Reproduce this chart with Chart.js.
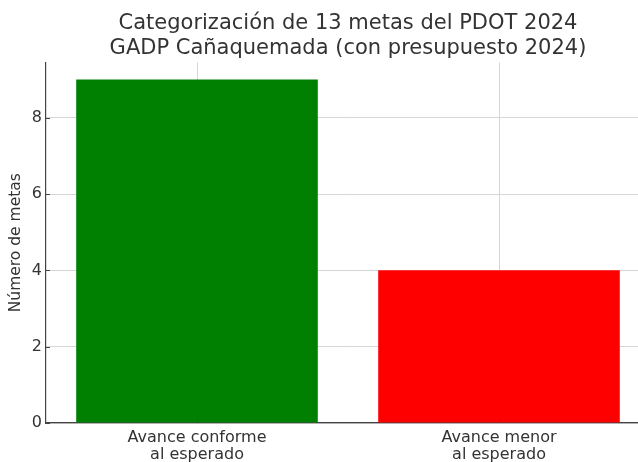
<!DOCTYPE html>
<html>
<head>
<meta charset="utf-8">
<script src="https://cdn.jsdelivr.net/npm/chart.js@4"></script>
<style>
  html, body { margin: 0; padding: 0; background: #fff; overflow: hidden; }
  #wrap { width: 660px; height: 462px; }
</style>
</head>
<body>
<div id="wrap"><canvas id="bars"></canvas></div>
<script>
const categorias = [['Avance conforme', 'al esperado'], ['Avance menor', 'al esperado']]
const metas = [9, 4]
const colores = ['#008000', '#ff0000']
const ticksY = [0, 2, 4, 6, 8]

const ctx = document.getElementById('bars')
const fuente = 'DejaVu Sans'

// marcas de graduación hacia dentro, como en matplotlib
const marcasDentro = {
    id: 'marcasDentro',
    afterDraw(chart) {
        const c = chart.ctx
        const a = chart.chartArea
        const sx = chart.scales.x
        const sy = chart.scales.y
        c.save()
        c.strokeStyle = '#444'
        c.lineWidth = 1
        c.beginPath()
        ticksY.forEach(v => {
            const y = Math.round(sy.getPixelForValue(v)) + 0.5
            c.moveTo(a.left, y)
            c.lineTo(a.left + 4, y)
        })
        categorias.forEach((_, i) => {
            const x = Math.round(sx.getPixelForValue(i)) + 0.5
            c.moveTo(x, a.bottom)
            c.lineTo(x, a.bottom - 4)
        })
        c.stroke()
        c.restore()
    }
}

new Chart(ctx, {
    type: 'bar',
    data: {
        labels: categorias,
        datasets: [{
            label: 'Número de metas',
            data: metas,
            backgroundColor: colores,
            borderWidth: 0,
            barPercentage: 0.8,
            categoryPercentage: 1
        }]
    },
    options: {
        responsive: true,
        maintainAspectRatio: false,
        animation: false,
        layout: { padding: { left: 0, right: 10, top: 0, bottom: 0 } },
        plugins: {
            legend: { display: false },
            tooltip: { enabled: false },
            title: {
                display: true,
                fullSize: false,
                text: ['Categorización de 13 metas del PDOT 2024', 'GADP Cañaquemada (con presupuesto 2024)'],
                color: '#333',
                font: { family: fuente, size: 21, weight: 'normal', lineHeight: 1.2 },
                padding: { top: 11, bottom: 1 }
            }
        },
        scales: {
            x: {
                z: 1,
                offset: true,
                grid: {
                    offset: false,
                    color: '#d6d6d6',
                    borderDash: [3, 2],
                    drawTicks: false
                },
                border: { display: true, color: '#444', width: 1.2 },
                ticks: {
                    color: '#333',
                    padding: 6,
                    font: { family: fuente, size: 16, lineHeight: 1.08 },
                    maxRotation: 0
                },
                afterFit: s => { s.height = 39 }
            },
            y: {
                z: 1,
                min: 0,
                max: 9.45,
                afterBuildTicks: s => { s.ticks = ticksY.map(v => ({ value: v })) },
                grid: {
                    color: '#d6d6d6',
                    borderDash: [3, 2],
                    drawTicks: false
                },
                border: { display: true, color: '#444', width: 1.2 },
                ticks: {
                    color: '#333',
                    padding: 4,
                    font: { family: fuente, size: 16 }
                },
                title: {
                    display: true,
                    text: 'Número de metas',
                    color: '#333',
                    font: { family: fuente, size: 15.5 },
                    padding: { top: 7, bottom: 0 }
                },
                afterFit: s => { s.width = 46 }
            }
        }
    },
    plugins: [marcasDentro]
})
</script>
</body>
</html>
